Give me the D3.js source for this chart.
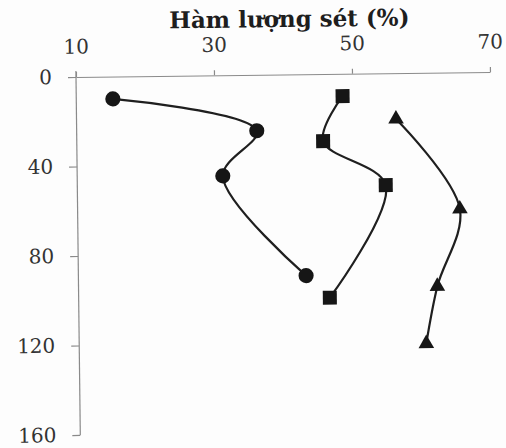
<!DOCTYPE html>
<html>
<head>
<meta charset="utf-8">
<script src="https://cdn.jsdelivr.net/npm/d3@7"></script>
<style>
  html, body { margin: 0; padding: 0; background: #fdfdfd; }
  svg { display: block; }
</style>
</head>
<body>
<svg id="chart" width="506" height="448"></svg>
<script>
// Clay content (%) versus depth (cm) for three soil profiles
const xTicks = [10, 30, 50, 70];
const yTicks = [0, 40, 80, 120, 160];
const titleText = "Hàm lượng sét (%)";

const circleDepth = [10, 25, 45, 90];
const circleClay  = [15.3, 36.1, 31.1, 43.0];

const squareDepth = [10, 30, 50, 100];
const squareClay  = [48.6, 45.7, 54.7, 46.4];

const triangleDepth = [20.5, 61, 95.5, 121];
const triangleClay  = [56.3, 65.4, 62.0, 60.3];

const series = [
  { symbol: d3.symbolCircle,   size: 180, depth: circleDepth,   clay: circleClay },
  { symbol: d3.symbolSquare,   size: 196, depth: squareDepth,   clay: squareClay },
  { symbol: d3.symbolTriangle, size: 105, depth: triangleDepth, clay: triangleClay }
];

const svg = d3.select("#chart");
svg.append("rect").attr("width", 506).attr("height", 448).attr("fill", "#fdfdfd");

const W = 414, H = 358;
// the printed figure sits slightly tilted on the page
const g = svg.append("g").attr("transform", "translate(76,77) rotate(-0.69)");

const x = d3.scaleLinear().domain([10, 70]).range([0, W]);
const y = d3.scaleLinear().domain([0, 160]).range([0, H]);

const axisColor = "#8a8a8a";
const tickFont = "'DejaVu Serif', serif";

const xAxis = g.append("g")
  .call(d3.axisTop(x).tickValues(xTicks).tickSize(5).tickSizeOuter(0).tickPadding(18.5));
const yAxis = g.append("g")
  .call(d3.axisLeft(y).tickValues(yTicks).tickSize(8).tickSizeOuter(0).tickPadding(16));

[xAxis, yAxis].forEach(a => {
  a.select(".domain").attr("stroke", axisColor).attr("stroke-width", 1.2);
  a.selectAll(".tick line").attr("stroke", axisColor).attr("stroke-width", 1.2);
  a.selectAll(".tick text")
    .attr("fill", "#333")
    .style("font-family", tickFont)
    .style("font-size", "20px");
});

// the y-axis line runs a little above the x-axis, standing in for the x=10 tick
yAxis.select(".domain").attr("d", `M0,-6V${H}`);

g.append("text")
  .attr("x", 214)
  .attr("y", -47.5)
  .attr("text-anchor", "middle")
  .attr("fill", "#1e1e1e")
  .style("font-family", "'DejaVu Serif', serif")
  .style("font-weight", "bold")
  .style("font-size", "23px")
  .text(titleText);

const line = d3.line()
  .x(d => x(d.clay))
  .y(d => y(d.depth))
  .curve(d3.curveCatmullRom.alpha(0.5));

series.forEach(s => {
  const pts = s.depth.map((d, i) => ({ depth: d, clay: s.clay[i] }));
  g.append("path")
    .datum(pts)
    .attr("d", line)
    .attr("fill", "none")
    .attr("stroke", "#1f1f1f")
    .attr("stroke-width", 2.2);
  g.selectAll(null)
    .data(pts)
    .enter()
    .append("path")
    .attr("transform", d => `translate(${x(d.clay)},${y(d.depth)})`)
    .attr("d", d3.symbol(s.symbol, s.size))
    .attr("fill", "#161616");
});
</script>
</body>
</html>
